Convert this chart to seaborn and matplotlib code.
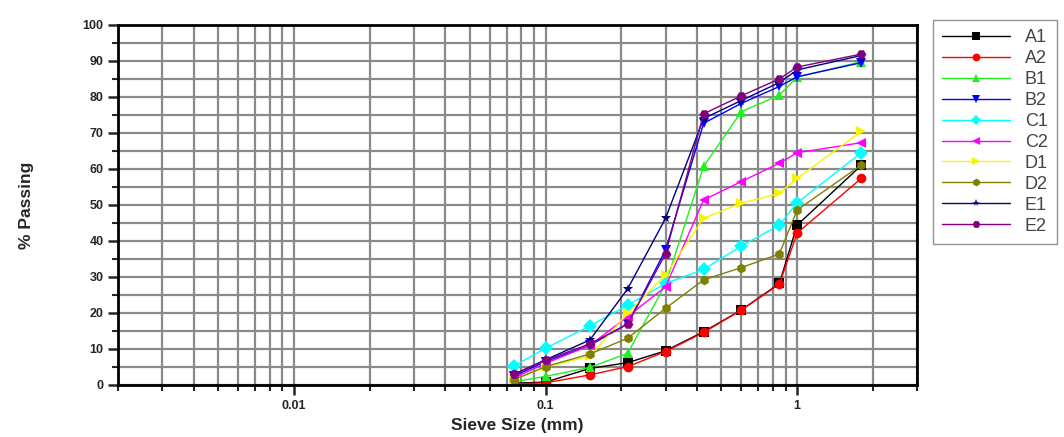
import matplotlib
matplotlib.use("Agg")
import matplotlib.pyplot as plt
import matplotlib.ticker as mticker
import numpy as np
import pandas as pd
import seaborn as sns

# sieve sizes (mm)
sieve = [0.075, 0.1, 0.15, 0.212, 0.3, 0.425, 0.6, 0.85, 1.0, 1.8]

# % passing per sample
A1 = [0.5, 0.8, 4.6, 6.2, 9.5, 14.8, 20.8, 28.2, 44.4, 61.0]
A2 = [0.3, 0.6, 2.8, 5.1, 9.3, 14.6, 20.8, 28.0, 42.2, 57.4]
B1 = [0.9, 2.4, 4.9, 8.8, 28.0, 60.7, 75.9, 80.5, 85.5, 89.8]
B2 = [2.5, 6.5, 11.0, 17.0, 37.5, 72.7, 78.2, 82.9, 85.6, 89.5]
C1 = [5.3, 10.2, 16.4, 22.2, 28.2, 32.1, 38.6, 44.4, 50.6, 64.5]
C2 = [2.0, 6.0, 11.0, 19.0, 27.3, 51.4, 56.5, 61.6, 64.5, 67.3]
D1 = [1.5, 5.0, 8.0, 19.9, 30.6, 46.3, 50.5, 53.2, 57.4, 70.4]
D2 = [1.5, 5.1, 8.6, 13.0, 21.3, 29.2, 32.6, 36.4, 48.6, 61.1]
E1 = [3.0, 7.0, 12.5, 26.7, 46.3, 74.0, 79.0, 84.0, 87.5, 91.5]
E2 = [3.0, 6.9, 11.4, 16.9, 36.5, 75.3, 80.3, 85.0, 88.3, 91.9]

samples = ["A1", "A2", "B1", "B2", "C1", "C2", "D1", "D2", "E1", "E2"]
series = [A1, A2, B1, B2, C1, C2, D1, D2, E1, E2]

colors = ["black", "red", "#22ee22", "blue", "cyan", "magenta",
          "#f5f500", "#808000", "#000080", "#800080"]
marks = ["s", "o", "^", "v", "D", "<", ">", "h", "*", "H"]

df = pd.DataFrame({
    "size": sieve * len(samples),
    "passing": [v for s in series for v in s],
    "sample": [n for n in samples for _ in sieve],
})

sns.set_style("ticks")
plt.rcParams["font.family"] = ["Liberation Sans", "DejaVu Sans"]

fig = plt.figure(figsize=(10.64, 4.37), dpi=100)
ax = fig.add_axes([0.111, 0.119, 0.751, 0.824])

sns.lineplot(data=df, x="size", y="passing", hue="sample", style="sample",
             palette=dict(zip(samples, colors)),
             markers=dict(zip(samples, marks)), dashes=False,
             markersize=7, linewidth=1.0, markeredgewidth=0,
             ax=ax, legend=True)

ax.set_xscale("log")
ax.set_xlim(0.002, 3)
ax.set_ylim(0, 100)
ax.xaxis.set_major_locator(mticker.FixedLocator([0.01, 0.1, 1]))
ax.xaxis.set_major_formatter(mticker.FixedFormatter(["0.01", "0.1", "1"]))
ax.xaxis.set_minor_locator(mticker.LogLocator(base=10, subs=np.arange(2, 10)))
ax.xaxis.set_minor_formatter(mticker.NullFormatter())
ax.yaxis.set_major_locator(mticker.MultipleLocator(10))
ax.yaxis.set_minor_locator(mticker.MultipleLocator(5))

ax.grid(True, which="both", color="#8a8a8a", linewidth=1.6, zorder=0)
ax.set_axisbelow(True)
for sp in ax.spines.values():
    sp.set_linewidth(2)
    sp.set_color("black")
ax.tick_params(which="major", direction="out", length=7, width=1.8,
               labelsize=9)
ax.tick_params(which="minor", direction="out", length=4, width=1.5)
for lab in ax.get_xticklabels() + ax.get_yticklabels():
    lab.set_fontweight("bold")

ax.set_xlabel("Sieve Size (mm)", fontsize=12.5, fontweight="bold")
ax.set_ylabel("% Passing", fontsize=12.5, fontweight="bold")
ax.xaxis.set_label_coords(0.5, -0.093)
ax.yaxis.set_label_coords(-0.105, 0.5)

handles, labels = ax.get_legend_handles_labels()
ax.legend(handles, labels, loc="upper left", bbox_to_anchor=(0.868, 0.975),
          bbox_transform=fig.transFigure, frameon=True, fancybox=False,
          edgecolor="#777777", fontsize=13, handlelength=3.8,
          labelspacing=0.22, borderpad=0.5, labelcolor="#444444",
          markerscale=0.8)

fig.savefig("out.png", dpi=100)
